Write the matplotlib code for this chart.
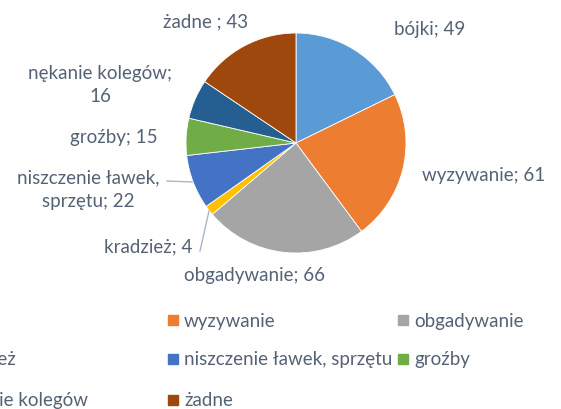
import matplotlib.pyplot as plt
from matplotlib.patches import Rectangle

labels = ['bójki', 'wyzywanie', 'obgadywanie', 'kradzież', 'niszczenie ławek, sprzętu',
          'groźby', 'nękanie kolegów', 'żadne']
values = [49, 61, 66, 4, 22, 15, 16, 43]
label_texts = ['bójki; 49', 'wyzywanie; 61', 'obgadywanie; 66', 'kradzież; 4',
               'niszczenie ławek,\nsprzętu; 22', 'groźby; 15', 'nękanie kolegów;\n16', 'żadne ; 43']
colors = ['#5B9BD5', '#ED7D31', '#A5A5A5', '#FFC000', '#4472C4', '#70AD47', '#255E91', '#9E480E']

# label placement (pixels relative to pie centre, y up)
label_pos = [(134, 114), (188, -31), (-41, -131), (-148, -103), (-208, -46),
             (-182, 7), (-196, 59), (-90, 122)]
txt_col = '#556275'
fs = 13.5

plt.rcParams['font.family'] = ['Lato', 'DejaVu Sans']

W, H = 561, 410
fig = plt.figure(figsize=(W / 100, H / 100), dpi=100)
cx, cy, R = 296, 144, 110
ax = fig.add_axes([(cx - R) / W, (H - cy - R) / H, 2 * R / W, 2 * R / H])
ax.pie(values, colors=colors, startangle=90, counterclock=False,
       wedgeprops=dict(edgecolor='white', linewidth=0.6))
ax.set_xlim(-1, 1)
ax.set_ylim(-1, 1)
ax.set_aspect('equal')
ax.axis('off')

for t, (dx, dy) in zip(label_texts, label_pos):
    ax.text(dx / R, dy / R, t, ha='center', va='center', fontsize=fs,
            color=txt_col, linespacing=1.5)

# leader lines
ax.plot([(209 - cx) / R, (200 - cx) / R], [(cy - 212) / R, (cy - 252) / R],
        color='#A9B6C9', lw=1, clip_on=False)
ax.plot([(167 - cx) / R, (192 - cx) / R], [(cy - 182) / R, (cy - 183) / R],
        color='#A9B6C9', lw=1, clip_on=False)

# legend (row-major, 3 columns, partly cut off on the left)
col_x = [-67, 168, 398]
row_y = [321, 360, 401]
for i, (lab, c) in enumerate(zip(labels, colors)):
    r, k = divmod(i, 3)
    x, y = col_x[k], row_y[r]
    fig.patches.append(Rectangle((x / W, 1 - (y + 5) / H), 10 / W, 10 / H,
                                 color=c, transform=fig.transFigure, figure=fig))
    fig.text((x + 16) / W, 1 - y / H, lab, ha='left', va='center',
             fontsize=fs, color=txt_col)

fig.savefig('out.png', dpi=100)
